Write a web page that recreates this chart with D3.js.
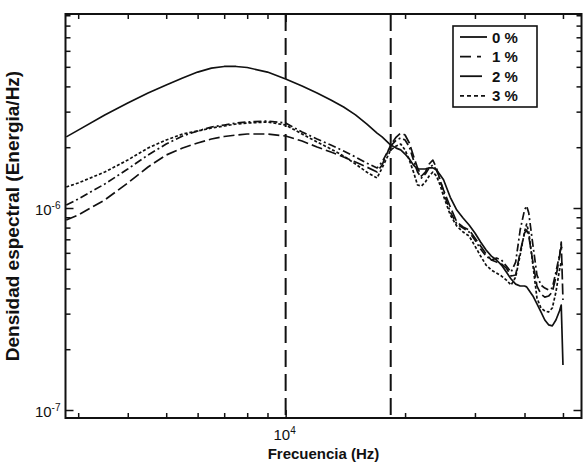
<!DOCTYPE html>
<html>
<head>
<meta charset="utf-8">
<script src="https://cdn.jsdelivr.net/npm/d3@7"></script>
<style>
  body { margin: 0; background: #fff; }
  svg { display: block; font-family: "Liberation Sans", Arial, sans-serif; }
</style>
</head>
<body>
<svg id="chart" width="583" height="465"></svg>
<script>
// Frequency grid (Hz) shared by all spectra
const freqs = [
  2800, 3000, 3500, 4000, 4500, 5000, 5500, 6000, 6500, 7000, 7500, 8000, 9000, 10000,
  11000, 12000, 13000, 14000, 15000, 16000, 17000, 17500, 18400,
  19000, 19500, 20000, 20500, 21000, 21500, 22000, 22500, 23000, 23500,
  24000, 24500, 25000, 26000, 27000, 28000, 29000, 30000, 31000, 32000,
  33000, 34000, 35000, 36000, 37000, 38000, 39000, 40000, 40500, 41000,
  42000, 43000, 44000, 45000, 46000, 47000, 48000, 49000, 49500, 50000
];

// Spectral density values, in units of 1e-6 (Energía/Hz)
const unit = 1e-6;
const density0 = [
  2.25, 2.43, 2.89, 3.31, 3.71, 4.06, 4.40, 4.71, 4.93, 5.02, 5.02, 4.96, 4.71, 4.35,
  4.02, 3.71, 3.43, 3.16, 2.89, 2.61, 2.35, 2.25, 2.05,
  1.98, 1.94, 1.85, 1.75, 1.63, 1.56, 1.56, 1.56, 1.58, 1.58,
  1.54, 1.46, 1.38, 1.13, 0.977, 0.892, 0.824, 0.752, 0.679, 0.620,
  0.578, 0.553, 0.522, 0.482, 0.445, 0.420, 0.411, 0.411, 0.407, 0.393,
  0.367, 0.335, 0.306, 0.279, 0.264, 0.261, 0.279, 0.309, 0.331, 0.167
];
const density1 = [
  1.035, 1.108, 1.315, 1.560, 1.830, 2.074, 2.272, 2.405, 2.518, 2.576, 2.635, 2.666, 2.696, 2.635,
  2.378, 2.196, 2.051, 1.915, 1.789, 1.670, 1.578, 1.689, 2.028,
  2.171, 2.221, 2.171, 2.005, 1.728, 1.507, 1.408, 1.474, 1.578, 1.633,
  1.542, 1.376, 1.200, 0.9555, 0.8332, 0.7962, 0.7607, 0.6943, 0.6266, 0.5786,
  0.5527, 0.5655, 0.5527, 0.5162, 0.4821, 0.5402, 0.7782, 0.9775, 1.023, 0.9446,
  0.6558, 0.4658, 0.4156, 0.4016, 0.3926, 0.4016, 0.4821, 0.5852, 0.6410, 0.6195
];
const density2 = [
  0.872, 0.923, 1.096, 1.330, 1.596, 1.830, 1.982, 2.098, 2.196, 2.259, 2.298, 2.325, 2.325, 2.272,
  2.146, 2.005, 1.893, 1.789, 1.689, 1.596, 1.507, 1.633, 2.051,
  2.246, 2.351, 2.298, 2.098, 1.809, 1.578, 1.440, 1.507, 1.651, 1.728,
  1.578, 1.376, 1.228, 1.012, 0.8525, 0.8052, 0.7782, 0.7104, 0.6484, 0.5919,
  0.5527, 0.5402, 0.5281, 0.5045, 0.4605, 0.4658, 0.6055, 0.7520, 0.7782, 0.7268,
  0.5402, 0.4109, 0.3751, 0.3624, 0.3666, 0.3837, 0.4553, 0.5720, 0.6786, 0.3503
];
const density3 = [
  1.271, 1.330, 1.507, 1.728, 1.982, 2.171, 2.325, 2.405, 2.489, 2.547, 2.605, 2.635, 2.666, 2.576,
  2.325, 2.122, 1.960, 1.809, 1.651, 1.507, 1.408, 1.578, 1.937,
  2.028, 2.074, 1.937, 1.728, 1.507, 1.300, 1.285, 1.345, 1.440, 1.507,
  1.440, 1.300, 1.147, 0.9233, 0.8145, 0.7607, 0.7268, 0.6484, 0.5786, 0.5221,
  0.4932, 0.4766, 0.4605, 0.4400, 0.4156, 0.4553, 0.5852, 0.7607, 0.8332, 0.7607,
  0.5221, 0.3583, 0.3198, 0.3091, 0.3055, 0.3198, 0.3837, 0.4932, 0.5402, 0.5103
];

const seriesLabels = ["0 %", "1 %", "2 %", "3 %"];
const seriesDash = [null, "8,3,2,3", "11,4", "3,2"];
const legendDash = [null, "11,6,4,40", "22,40", "4,3"];

// Reference frequencies marked with vertical dashed lines
const markerFreqs = [10000, 18400];

// Axis ranges and tick labels
const xDomain = [2787, 55680];
const yDomain = [9.13e-8, 9.13e-6];
const xMinorTicks = [3000, 4000, 5000, 6000, 7000, 8000, 9000, 20000, 30000, 40000, 50000];
const xMajorTicks = [10000];
const yMinorTicks = [2e-7, 3e-7, 4e-7, 5e-7, 6e-7, 7e-7, 8e-7, 9e-7,
                     2e-6, 3e-6, 4e-6, 5e-6, 6e-6, 7e-6, 8e-6, 9e-6];
const yMajorTicks = [1e-7, 1e-6];
const xTickLabels = [{ value: 10000, base: "10", exp: "4" }];
const yTickLabels = [{ value: 1e-6, base: "10", exp: "-6" }, { value: 1e-7, base: "10", exp: "-7" }];
const xTitle = "Frecuencia (Hz)";
const yTitle = "Densidad espectral (Energia/Hz)";

const plot = { left: 65.5, right: 581.5, top: 14, bottom: 418 };
const ink = "#111";

const svg = d3.select("#chart");

const x = d3.scaleLog().domain(xDomain).range([plot.left, plot.right]);
const y = d3.scaleLog().domain(yDomain).range([plot.bottom, plot.top]);

// Clip for curves
svg.append("defs").append("clipPath").attr("id", "plotClip")
  .append("rect")
  .attr("x", plot.left).attr("y", plot.top)
  .attr("width", plot.right - plot.left).attr("height", plot.bottom - plot.top);

// Inward tick marks on all four sides
function tickLayer(axisFn, scale, values, size, transform) {
  const g = svg.append("g").attr("transform", transform)
    .call(axisFn(scale).tickValues(values).tickSizeInner(size).tickSizeOuter(0).tickFormat(""));
  g.select(".domain").remove();
  g.selectAll(".tick line").attr("stroke", ink).attr("stroke-width", 1.5);
  return g;
}
tickLayer(d3.axisBottom, x, xMinorTicks, -5, `translate(0,${plot.bottom})`);
tickLayer(d3.axisBottom, x, xMajorTicks, -8, `translate(0,${plot.bottom})`);
tickLayer(d3.axisTop, x, xMinorTicks, -5, `translate(0,${plot.top})`);
tickLayer(d3.axisTop, x, xMajorTicks, -8, `translate(0,${plot.top})`);
tickLayer(d3.axisLeft, y, yMinorTicks, -5, `translate(${plot.left},0)`);
tickLayer(d3.axisLeft, y, yMajorTicks, -8, `translate(${plot.left},0)`);
tickLayer(d3.axisRight, y, yMinorTicks, -5, `translate(${plot.right},0)`);
tickLayer(d3.axisRight, y, yMajorTicks, -8, `translate(${plot.right},0)`);

// Vertical dashed markers
svg.append("g").selectAll("line").data(markerFreqs).join("line")
  .attr("x1", d => x(d)).attr("x2", d => x(d))
  .attr("y1", plot.top).attr("y2", plot.bottom)
  .attr("stroke", ink).attr("stroke-width", 2)
  .attr("stroke-dasharray", "17,7");

// Spectra
const allSeries = [density0, density1, density2, density3];
const line = d3.line()
  .x((d, i) => x(freqs[i]))
  .y(d => y(d * unit));

svg.append("g").attr("clip-path", "url(#plotClip)")
  .selectAll("path").data(allSeries).join("path")
  .attr("d", d => line(d))
  .attr("fill", "none")
  .attr("stroke", ink)
  .attr("stroke-width", 1.7)
  .attr("stroke-linejoin", "round")
  .attr("stroke-dasharray", (d, i) => seriesDash[i]);

// Frame
svg.append("rect")
  .attr("x", plot.left).attr("y", plot.top)
  .attr("width", plot.right - plot.left).attr("height", plot.bottom - plot.top)
  .attr("fill", "none").attr("stroke", ink).attr("stroke-width", 2);

// Tick labels with superscript exponents
function powerLabel(sel, d) {
  sel.append("tspan").text(d.base);
  sel.append("tspan").attr("dy", -6).attr("font-size", 10).text(d.exp);
}
svg.append("g").selectAll("text").data(xTickLabels).join("text")
  .attr("x", d => x(d.value) - 1).attr("y", plot.bottom + 22)
  .attr("text-anchor", "middle").attr("font-size", 15).attr("fill", ink)
  .each(function (d) { powerLabel(d3.select(this), d); });
svg.append("g").selectAll("text").data(yTickLabels).join("text")
  .attr("x", plot.left - 5).attr("y", d => y(d.value) + 7)
  .attr("text-anchor", "end").attr("font-size", 15).attr("fill", ink)
  .each(function (d) { powerLabel(d3.select(this), d); });

// Axis titles
svg.append("text")
  .attr("x", (plot.left + plot.right) / 2).attr("y", 459)
  .attr("text-anchor", "middle").attr("font-size", 15).attr("font-weight", "bold").attr("fill", ink)
  .text(xTitle);
svg.append("text")
  .attr("transform", `translate(19,${(plot.top + plot.bottom) / 2}) rotate(-90)`)
  .attr("text-anchor", "middle").attr("font-size", 19).attr("font-weight", "bold").attr("fill", ink)
  .text(yTitle);

// Legend
const legend = svg.append("g");
legend.append("rect")
  .attr("x", 453).attr("y", 26).attr("width", 84).attr("height", 81)
  .attr("fill", "#fff").attr("stroke", ink).attr("stroke-width", 1.6);
const rows = legend.selectAll("g.row").data(seriesLabels).join("g")
  .attr("class", "row")
  .attr("transform", (d, i) => `translate(0,${37 + i * 19.6})`);
rows.append("line")
  .attr("x1", 460).attr("x2", 487).attr("y1", 0).attr("y2", 0)
  .attr("stroke", ink).attr("stroke-width", 1.8)
  .attr("stroke-dasharray", (d, i) => legendDash[i]);
rows.append("text")
  .attr("x", 492).attr("y", 5.5)
  .attr("font-size", 15).attr("font-weight", "bold").attr("fill", ink)
  .text(d => d);
</script>
</body>
</html>
